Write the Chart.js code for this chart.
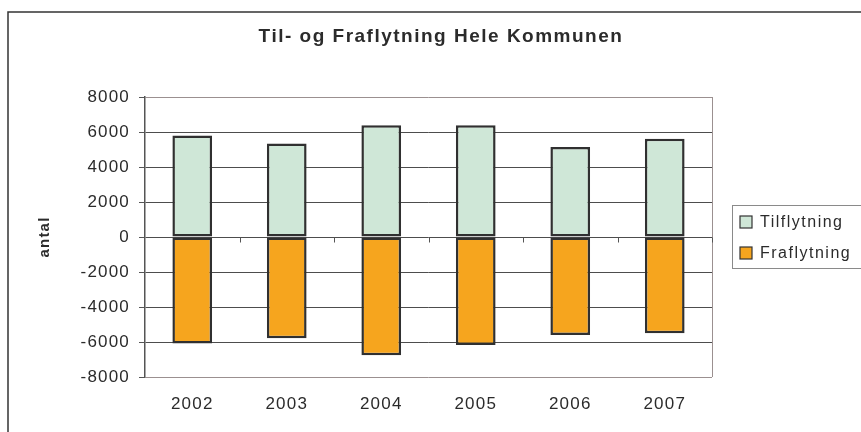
<!DOCTYPE html>
<html lang="da">
<head>
    <meta charset="UTF-8">
    <title>Til- og Fraflytning Hele Kommunen</title>
    <script src="https://cdn.jsdelivr.net/npm/chart.js@4"></script>
    <style>
        body { margin: 0; background: #fff; }
        #wrap { width: 861px; height: 432px; position: relative; }
    </style>
</head>
<body>
    <div id="wrap"><canvas id="flytChart"></canvas></div>

    <script>
        // data
        const years = ['2002', '2003', '2004', '2005', '2006', '2007'];
        const tilflytning = [5800, 5350, 6380, 6380, 5140, 5620];
        const fraflytning = [-6080, -5790, -6760, -6170, -5600, -5500];
        const yTicks = [-8000, -6000, -4000, -2000, 0, 2000, 4000, 6000, 8000];

        const FONT = "'Liberation Sans', Arial, sans-serif";

        // frame, title, legend and the small ticks on the zero line
        const decor = {
            id: 'decor',
            beforeDraw(chart) {
                chart.ctx.letterSpacing = '1.2px';
            },
            afterDraw(chart) {
                const ctx = chart.ctx;
                const area = chart.chartArea;
                const y = chart.scales.y;
                const x = chart.scales.x;

                ctx.save();
                // outer frame (cut by the picture on right and bottom)
                ctx.strokeStyle = '#333';
                ctx.lineWidth = 1.5;
                ctx.strokeRect(8, 12, 900, 500);

                // right border of plot
                ctx.strokeStyle = '#9b9090';
                ctx.lineWidth = 1;
                ctx.beginPath();
                ctx.moveTo(area.right + 0.5, area.top);
                ctx.lineTo(area.right + 0.5, area.bottom);
                ctx.stroke();

                // tick marks under zero line between categories
                const y0 = Math.round(y.getPixelForValue(0)) + 0.5;
                const step = (area.right - area.left) / years.length;
                ctx.strokeStyle = '#555';
                for (let i = 1; i <= years.length; i++) {
                    const xx = Math.round(x.getPixelForValue(i - 1) + step / 2) + 0.5;
                    ctx.beginPath();
                    ctx.moveTo(xx, y0);
                    ctx.lineTo(xx, y0 + 5);
                    ctx.stroke();
                }

                // title
                ctx.fillStyle = '#2b2b2b';
                ctx.font = 'bold 19px ' + FONT;
                ctx.letterSpacing = '1.5px';
                ctx.textAlign = 'center';
                ctx.textBaseline = 'middle';
                ctx.fillText('Til- og Fraflytning Hele Kommunen', 441, 37);

                // legend
                ctx.strokeStyle = '#8a8a8a';
                ctx.lineWidth = 1;
                ctx.strokeRect(732.5, 205.5, 130, 63);
                ctx.font = '16px ' + FONT;
                ctx.letterSpacing = '1.5px';
                ctx.textAlign = 'left';
                chart.data.datasets.forEach((ds, i) => {
                    const cy = 222 + i * 31;
                    ctx.fillStyle = ds.backgroundColor;
                    ctx.fillRect(740, cy - 6, 12, 12);
                    ctx.strokeStyle = '#333';
                    ctx.lineWidth = 1.2;
                    ctx.strokeRect(740, cy - 6, 12, 12);
                    ctx.fillStyle = '#2b2b2b';
                    ctx.fillText(ds.label, 760, cy + 1);
                });
                ctx.restore();
            }
        };

        const ctx = document.getElementById('flytChart').getContext('2d');

        new Chart(ctx, {
            type: 'bar',
            data: {
                labels: years,
                datasets: [
                    {
                        label: 'Tilflytning',
                        data: tilflytning,
                        backgroundColor: '#cfe7d7',
                        borderColor: '#303030',
                        borderWidth: 2.5,
                        borderSkipped: false
                    },
                    {
                        label: 'Fraflytning',
                        data: fraflytning,
                        backgroundColor: '#f6a51e',
                        borderColor: '#303030',
                        borderWidth: 2.5,
                        borderSkipped: false
                    }
                ]
            },
            options: {
                responsive: true,
                maintainAspectRatio: false,
                animation: false,
                layout: { padding: { top: 97, right: 149, bottom: 0, left: 0 } },
                datasets: {
                    bar: { categoryPercentage: 1, barPercentage: 0.42 }
                },
                scales: {
                    x: {
                        stacked: true,
                        grid: { display: false, drawTicks: false },
                        border: { display: false },
                        ticks: {
                            color: '#2b2b2b',
                            font: { family: FONT, size: 17 },
                            padding: 17
                        },
                        afterFit(scale) { scale.height = 55; }
                    },
                    y: {
                        stacked: true,
                        min: -8000,
                        max: 8000,
                        afterBuildTicks(scale) {
                            scale.ticks = yTicks.map(v => ({ value: v }));
                        },
                        grid: {
                            color: c => (Math.abs(c.tick.value) === 8000 ? '#9b9090' : '#4d4d4d'),
                            tickColor: '#555',
                            tickLength: 6,
                            lineWidth: 1
                        },
                        border: { color: '#555', width: 1.5 },
                        ticks: {
                            color: '#2b2b2b',
                            font: { family: FONT, size: 17 },
                            padding: 9,
                            callback: v => String(v)
                        },
                        title: {
                            display: true,
                            text: 'antal',
                            color: '#2b2b2b',
                            font: { family: FONT, size: 15, weight: 'bold' },
                            padding: { top: 36 }
                        },
                        afterFit(scale) { scale.width = 145; }
                    }
                },
                plugins: {
                    legend: { display: false },
                    title: { display: false },
                    tooltip: { enabled: false }
                }
            },
            plugins: [decor]
        });
    </script>
</body>
</html>
